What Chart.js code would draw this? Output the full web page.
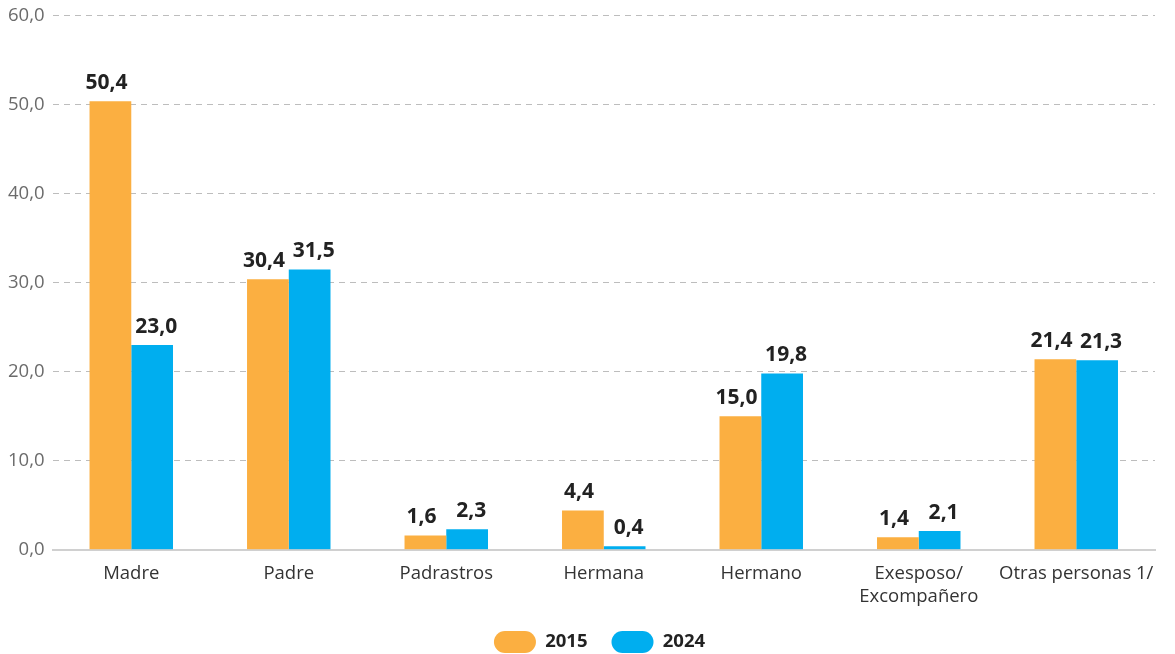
<!DOCTYPE html>
<html lang="es">
<head>
  <meta charset="UTF-8">
  <title>2015 vs 2024</title>
  <style>
    body { margin: 0; background: #fff; }
    .chart-box { width: 1175px; height: 654px; }
  </style>
</head>
<body>
<div class="chart-box">
  <canvas id="barChart"></canvas>
</div>

<script src="https://cdn.jsdelivr.net/npm/chart.js"></script>
<script>
  const categories = ['Madre', 'Padre', 'Padrastros', 'Hermana', 'Hermano', ['Exesposo/', 'Excompañero'], 'Otras personas 1/'];
  const values2015 = [50.4, 30.4, 1.6, 4.4, 15.0, 1.4, 21.4];
  const values2024 = [23.0, 31.5, 2.3, 0.4, 19.8, 2.1, 21.3];
  const seriesNames = ['2015', '2024'];

  const fmt = v => v.toFixed(1).replace('.', ',');

  // etiquetas encima de las barras (un poco separadas hacia fuera)
  const valueLabels = {
    id: 'valueLabels',
    afterLayout(chart) {
      // centrar la leyenda bajo el área del gráfico
      chart.legend.left += 22;
      chart.legend.right += 22;
    },
    afterDatasetsDraw(chart) {
      const ctx = chart.ctx;
      ctx.save();
      ctx.font = 'bold 21px "Open Sans"';
      ctx.fillStyle = '#222';
      ctx.textAlign = 'center';
      ctx.textBaseline = 'bottom';
      chart.data.datasets.forEach((ds, i) => {
        const shift = i === 0 ? -4 : 4;
        chart.getDatasetMeta(i).data.forEach((bar, j) => {
          ctx.fillText(fmt(ds.data[j]), bar.x + shift, bar.y - 8);
        });
      });
      ctx.restore();
    }
  };

  new Chart(document.getElementById('barChart'), {
    type: 'bar',
    data: {
      labels: categories,
      datasets: [
        { label: seriesNames[0], data: values2015, backgroundColor: '#FBAF41' },
        { label: seriesNames[1], data: values2024, backgroundColor: '#00AEEF' }
      ]
    },
    options: {
      responsive: true,
      maintainAspectRatio: false,
      animation: false,
      categoryPercentage: 0.53,
      barPercentage: 1,
      layout: { padding: { top: 0, right: 20, left: 0, bottom: -9 } },
      plugins: {
        tooltip: { enabled: false },
        legend: {
          position: 'bottom',
          labels: {
            font: { family: 'Open Sans', size: 18.5, weight: 'bold' },
            color: '#222',
            boxWidth: 42,
            boxHeight: 22,
            useBorderRadius: true,
            borderRadius: 11,
            padding: 24
          }
        }
      },
      scales: {
        x: {
          grid: { display: false, drawTicks: false },
          border: { color: '#d0d0d0', width: 2 },
          ticks: {
            font: { family: 'Open Sans', size: 18.5, lineHeight: 1.25 },
            color: '#333',
            maxRotation: 0,
            autoSkip: false,
            padding: 12
          },
          afterFit(scale) { scale.height -= 13; }
        },
        y: {
          min: 0,
          max: 60,
          ticks: {
            stepSize: 10,
            font: { family: 'Open Sans', size: 18.5, lineHeight: 0.84 },
            color: '#6b6b6b',
            padding: 8,
            callback: v => fmt(v)
          },
          border: { display: false, dash: [6, 5] },
          grid: { color: '#bdbdbd', drawTicks: false }
        }
      }
    },
    plugins: [valueLabels]
  });
</script>
</body>
</html>
